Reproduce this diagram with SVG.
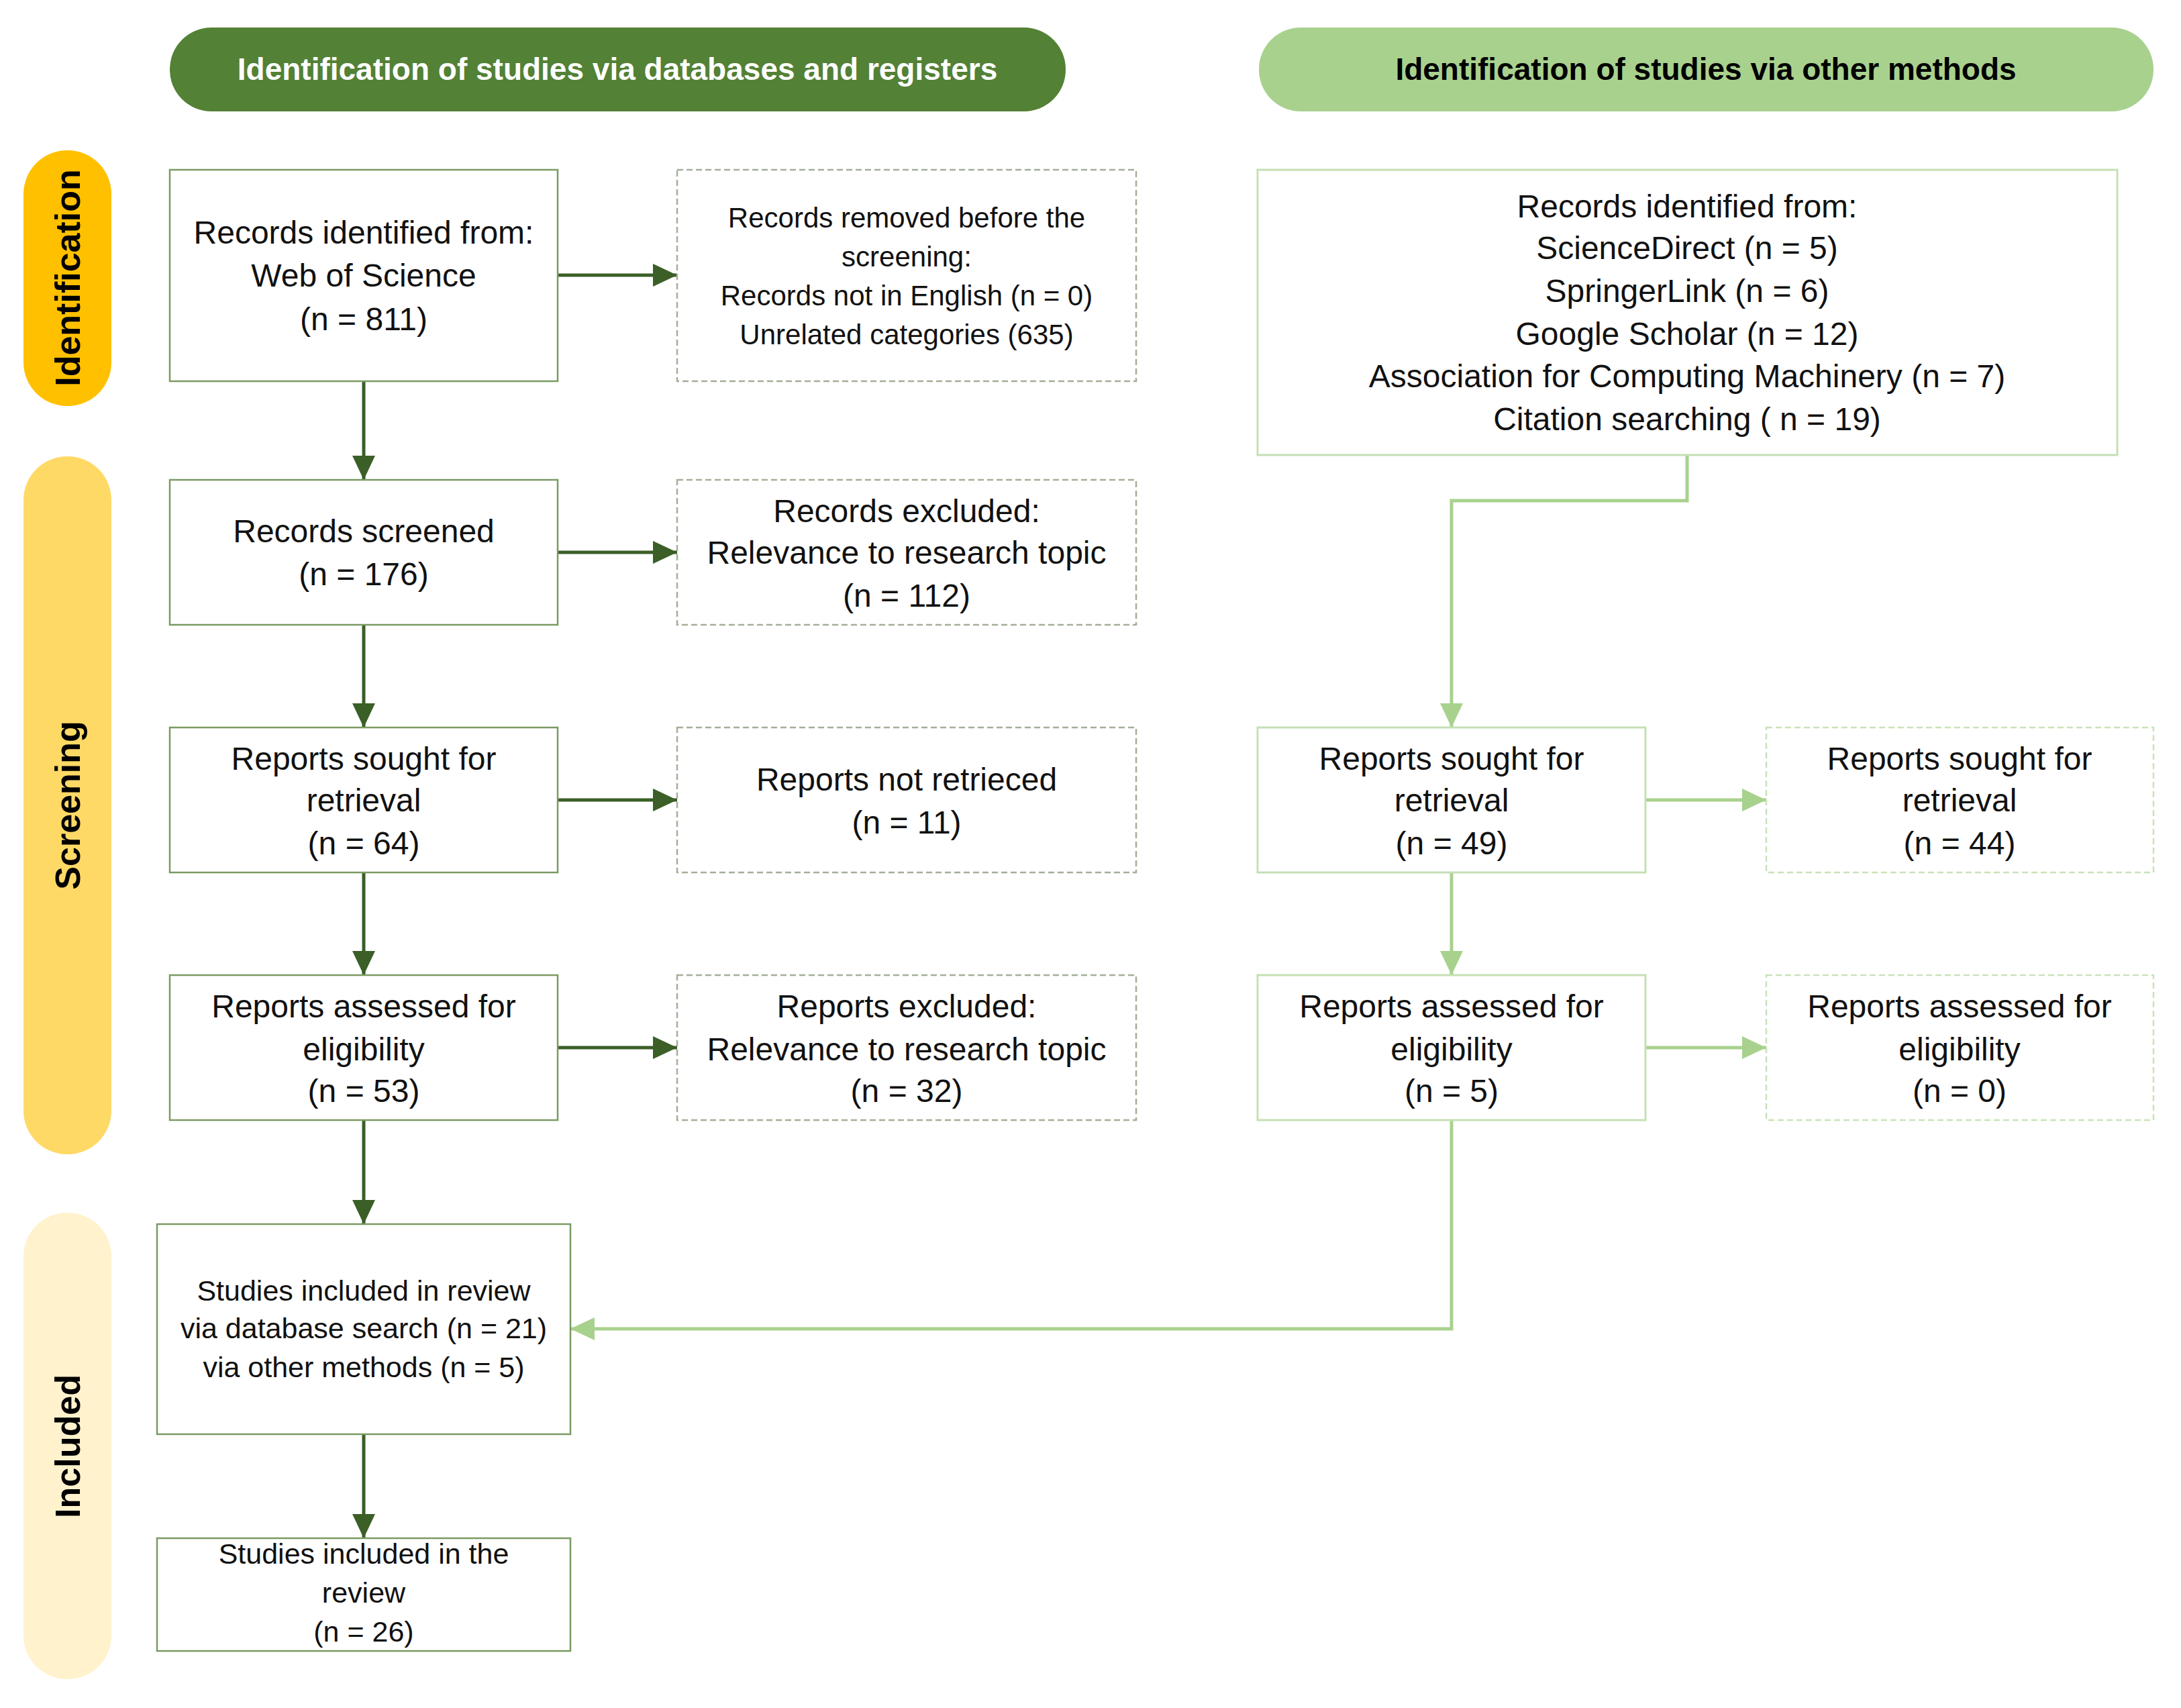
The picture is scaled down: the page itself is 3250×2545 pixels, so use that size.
<svg xmlns="http://www.w3.org/2000/svg" width="3250" height="2545" viewBox="0 0 3250 2545">
<style>
.t{font-family:"Liberation Sans",Arial,sans-serif;font-size:48px;fill:#111;text-anchor:middle}
.s{font-size:42px}
.m{font-size:43px}
.hd{font-family:"Liberation Sans",Arial,sans-serif;font-size:46px;font-weight:bold;text-anchor:middle}
.side{font-family:"Liberation Sans",Arial,sans-serif;font-size:52px;font-weight:bold;fill:#000;text-anchor:middle}
.bl{fill:#fff;stroke:#7A9A62;stroke-width:2.5}
.dl{fill:#fff;stroke:#A3AE98;stroke-width:2.5;stroke-dasharray:9 5}
.br{fill:#fff;stroke:#C5E0B4;stroke-width:3}
.dr{fill:#fff;stroke:#C9E2B8;stroke-width:2.5;stroke-dasharray:9 5}
.cd{fill:none;stroke:#3B5F27;stroke-width:5}
.cl{fill:none;stroke:#A9D18E;stroke-width:5}
</style>
<defs>
<marker id="ad" markerUnits="userSpaceOnUse" markerWidth="36" markerHeight="34" refX="36" refY="17" orient="auto"><path d="M0,0 L36,17 L0,34 z" fill="#3B5F27"/></marker>
<marker id="al" markerUnits="userSpaceOnUse" markerWidth="36" markerHeight="34" refX="36" refY="17" orient="auto"><path d="M0,0 L36,17 L0,34 z" fill="#A9D18E"/></marker>
</defs>
<rect width="3250" height="2545" fill="#fff"/>

<g id="header-left"><rect x="253" y="41" width="1335" height="125" rx="62" fill="#538135"/><text class="hd" x="920" y="119" fill="#fff">Identification of studies via databases and registers</text></g>
<g id="header-right"><rect x="1876" y="41" width="1333" height="125" rx="62" fill="#A9D18E"/><text class="hd" x="2542" y="119" fill="#000">Identification of studies via other methods</text></g>

<g id="phase-identification"><rect x="35" y="224" width="131" height="381" rx="65" fill="#FFC000"/><text class="side" transform="translate(119,414) rotate(-90)">Identification</text></g>
<g id="phase-screening"><rect x="35" y="680" width="131" height="1040" rx="65" fill="#FFD966"/><text class="side" transform="translate(119,1200) rotate(-90)">Screening</text></g>
<g id="phase-included"><rect x="35" y="1807" width="131" height="695" rx="65" fill="#FFF2CC"/><text class="side" transform="translate(119,2155) rotate(-90)">Included</text></g>

<g id="connectors">
<line class="cd" x1="542" y1="568" x2="542" y2="715" marker-end="url(#ad)"/>
<line class="cd" x1="542" y1="931" x2="542" y2="1084" marker-end="url(#ad)"/>
<line class="cd" x1="542" y1="1300" x2="542" y2="1453" marker-end="url(#ad)"/>
<line class="cd" x1="542" y1="1669" x2="542" y2="1824" marker-end="url(#ad)"/>
<line class="cd" x1="542" y1="2137" x2="542" y2="2292" marker-end="url(#ad)"/>
<line class="cd" x1="831" y1="410" x2="1009" y2="410" marker-end="url(#ad)"/>
<line class="cd" x1="831" y1="823" x2="1009" y2="823" marker-end="url(#ad)"/>
<line class="cd" x1="831" y1="1192" x2="1009" y2="1192" marker-end="url(#ad)"/>
<line class="cd" x1="831" y1="1561" x2="1009" y2="1561" marker-end="url(#ad)"/>
<polyline class="cl" points="2514,678 2514,746 2163,746 2163,1084" marker-end="url(#al)"/>
<line class="cl" x1="2163" y1="1300" x2="2163" y2="1453" marker-end="url(#al)"/>
<line class="cl" x1="2452" y1="1192" x2="2632" y2="1192" marker-end="url(#al)"/>
<line class="cl" x1="2452" y1="1561" x2="2632" y2="1561" marker-end="url(#al)"/>
<polyline class="cl" points="2163,1669 2163,1980 850,1980" marker-end="url(#al)"/>
</g>

<g id="records-identified"><rect class="bl" x="253" y="253" width="578" height="315"/>
<text class="t" x="542" y="363">Records identified from:</text><text class="t" x="542" y="427">Web of Science</text><text class="t" x="542" y="492">(n = 811)</text></g>
<g id="records-removed"><rect class="dl" x="1009" y="253" width="684" height="315"/>
<text class="t s" x="1351" y="339">Records removed before the</text><text class="t s" x="1351" y="397">screening:</text><text class="t s" x="1351" y="455">Records not in English (n = 0)</text><text class="t s" x="1351" y="513">Unrelated categories (635)</text></g>

<g id="records-screened"><rect class="bl" x="253" y="715" width="578" height="216"/>
<text class="t" x="542" y="808">Records screened</text><text class="t" x="542" y="872">(n = 176)</text></g>
<g id="records-excluded"><rect class="dl" x="1009" y="715" width="684" height="216"/>
<text class="t" x="1351" y="778">Records excluded:</text><text class="t" x="1351" y="840">Relevance to research topic</text><text class="t" x="1351" y="904">(n = 112)</text></g>

<g id="reports-sought"><rect class="bl" x="253" y="1084" width="578" height="216"/>
<text class="t" x="542" y="1147">Reports sought for</text><text class="t" x="542" y="1209">retrieval</text><text class="t" x="542" y="1273">(n = 64)</text></g>
<g id="reports-not-retrieved"><rect class="dl" x="1009" y="1084" width="684" height="216"/>
<text class="t" x="1351" y="1178">Reports not retrieced</text><text class="t" x="1351" y="1242">(n = 11)</text></g>

<g id="reports-assessed"><rect class="bl" x="253" y="1453" width="578" height="216"/>
<text class="t" x="542" y="1516">Reports assessed for</text><text class="t" x="542" y="1580">eligibility</text><text class="t" x="542" y="1642">(n = 53)</text></g>
<g id="reports-excluded"><rect class="dl" x="1009" y="1453" width="684" height="216"/>
<text class="t" x="1351" y="1516">Reports excluded:</text><text class="t" x="1351" y="1580">Relevance to research topic</text><text class="t" x="1351" y="1642">(n = 32)</text></g>

<g id="studies-included"><rect class="bl" x="234" y="1824" width="616" height="313"/>
<text class="t m" x="542" y="1938">Studies included in review</text><text class="t m" x="542" y="1994">via database search (n = 21)</text><text class="t m" x="542" y="2052">via other methods (n = 5)</text></g>
<g id="studies-review"><rect class="bl" x="234" y="2292" width="616" height="168"/>
<text class="t m" x="542" y="2330">Studies included in the</text><text class="t m" x="542" y="2388">review</text><text class="t m" x="542" y="2446">(n = 26)</text></g>

<g id="other-records"><rect class="br" x="1874" y="253" width="1281" height="425"/>
<text class="t" x="2514" y="324">Records identified from:</text><text class="t" x="2514" y="386">ScienceDirect (n = 5)</text><text class="t" x="2514" y="450">SpringerLink (n = 6)</text><text class="t" x="2514" y="514">Google Scholar (n = 12)</text><text class="t" x="2514" y="577">Association for Computing Machinery (n = 7)</text><text class="t" x="2514" y="641">Citation searching ( n = 19)</text></g>

<g id="other-sought"><rect class="br" x="1874" y="1084" width="578" height="216"/>
<text class="t" x="2163" y="1147">Reports sought for</text><text class="t" x="2163" y="1209">retrieval</text><text class="t" x="2163" y="1273">(n = 49)</text></g>
<g id="other-sought-excl"><rect class="dr" x="2632" y="1084" width="577" height="216"/>
<text class="t" x="2920" y="1147">Reports sought for</text><text class="t" x="2920" y="1209">retrieval</text><text class="t" x="2920" y="1273">(n = 44)</text></g>

<g id="other-assessed"><rect class="br" x="1874" y="1453" width="578" height="216"/>
<text class="t" x="2163" y="1516">Reports assessed for</text><text class="t" x="2163" y="1580">eligibility</text><text class="t" x="2163" y="1642">(n = 5)</text></g>
<g id="other-assessed-excl"><rect class="dr" x="2632" y="1453" width="577" height="216"/>
<text class="t" x="2920" y="1516">Reports assessed for</text><text class="t" x="2920" y="1580">eligibility</text><text class="t" x="2920" y="1642">(n = 0)</text></g>
</svg>
